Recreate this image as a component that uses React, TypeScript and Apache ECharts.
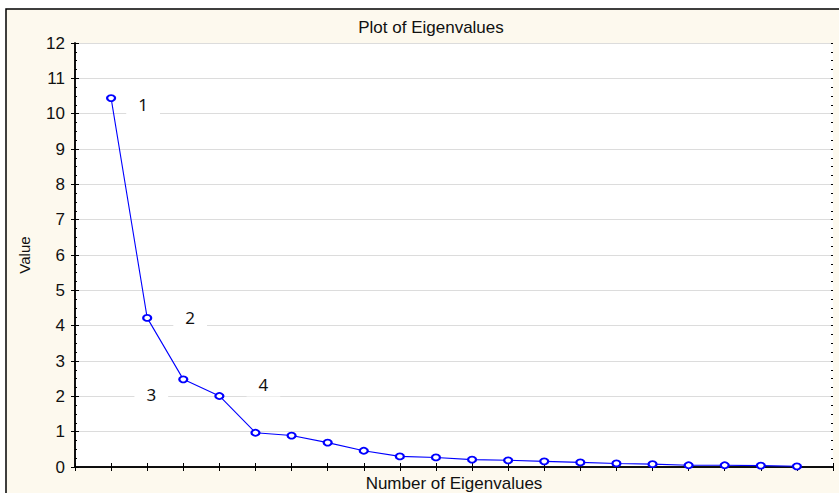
import React, { useEffect, useRef } from "react";
import * as echarts from "echarts";

const componentNumbers = [1, 2, 3, 4, 5, 6, 7, 8, 9, 10, 11, 12, 13, 14, 15, 16, 17, 18, 19, 20];
const eigenvalues = [10.44, 4.22, 2.48, 2.01, 0.97, 0.89, 0.69, 0.46, 0.3, 0.27, 0.21, 0.19, 0.16, 0.13, 0.1, 0.08, 0.05, 0.05, 0.04, 0.02];
const annotationTexts = ["1", "2", "3", "4"];
const annotationOffsets: [number, number][] = [[32, 6], [43, 0], [-32, 15], [44, -11]];
const yTicks = [0, 12];

export default function App() {
  const ref = useRef<HTMLDivElement>(null);
  useEffect(() => {
    if (!ref.current) return;
    const chart = echarts.init(ref.current, undefined, { renderer: "svg" });
    const data = componentNumbers.map((n, i) => {
      const item: any = { value: [n, eigenvalues[i]] };
      if (i < annotationTexts.length) {
        item.label = {
          show: true,
          formatter: annotationTexts[i],
          position: "inside",
          offset: annotationOffsets[i],
          align: "center",
          verticalAlign: "middle",
          fontFamily: "Noto Sans",
          fontSize: 17,
          color: "#111",
          backgroundColor: "#ffffff",
          padding: [3, 12],
        };
      }
      return item;
    });
    const axisFont = { fontFamily: "Liberation Sans, Arial, sans-serif", color: "#111" };
    const minorAxis = (position: string) => ({
      type: "value",
      min: yTicks[0],
      max: yTicks[1],
      interval: 0.25,
      position,
      axisLine: { show: false },
      axisTick: { show: true, inside: true, length: 2, lineStyle: { color: "#000" } },
      axisLabel: { show: false },
      splitLine: { show: false },
    });
    chart.setOption({
      animation: false,
      backgroundColor: "#ffffff",
      title: {
        text: "Plot of Eigenvalues",
        left: 426,
        textAlign: "center",
        top: 14,
        textStyle: { ...axisFont, fontSize: 17, fontWeight: "normal" },
      },
      graphic: [
        {
          type: "rect",
          z: -100,
          silent: true,
          shape: { x: 6, y: 9, width: 850, height: 500 },
          style: { fill: "#fdf9ee", stroke: "#000", lineWidth: 1.5 },
        },
      ],
      grid: {
        left: 75,
        right: 6,
        top: 43,
        bottom: 26,
        outerBoundsMode: "none",
        containLabel: false,
        show: true,
        backgroundColor: "#ffffff",
        borderWidth: 0,
      },
      xAxis: [
        {
          type: "value",
          min: 0,
          max: 21,
          interval: 1,
          position: "bottom",
          axisLine: { lineStyle: { color: "#000", width: 1.5 } },
          axisTick: { inside: true, length: 4, lineStyle: { color: "#000" } },
          axisLabel: { show: false },
          splitLine: { show: false },
          name: "Number of Eigenvalues",
          nameLocation: "middle",
          nameGap: 8,
          nameTextStyle: { ...axisFont, fontSize: 17 },
        },
        {
          type: "value",
          min: 0,
          max: 21,
          interval: 1,
          position: "top",
          axisLine: { lineStyle: { color: "#000", width: 1.5 } },
          axisTick: { inside: true, length: 4, lineStyle: { color: "#000" } },
          axisLabel: { show: false },
          splitLine: { show: false },
        },
      ],
      yAxis: [
        {
          type: "value",
          min: yTicks[0],
          max: yTicks[1],
          interval: 1,
          position: "left",
          axisLine: { show: true, lineStyle: { color: "#000", width: 1.5 } },
          axisTick: { show: true, inside: true, length: 4, lineStyle: { color: "#000" } },
          axisLabel: { ...axisFont, fontSize: 17, margin: 10 },
          splitLine: { show: true, lineStyle: { color: "#dcdcdc", width: 1 } },
          name: "Value",
          nameLocation: "middle",
          nameGap: 43,
          nameTextStyle: { ...axisFont, fontSize: 15 },
        },
        {
          type: "value",
          min: yTicks[0],
          max: yTicks[1],
          interval: 1,
          position: "right",
          axisLine: { show: true, lineStyle: { color: "#000", width: 1.5 } },
          axisTick: { show: true, inside: true, length: 4, lineStyle: { color: "#000" } },
          axisLabel: { show: false },
          splitLine: { show: false },
        },
        minorAxis("left"),
        minorAxis("right"),
      ],
      series: [
        {
          type: "line",
          data,
          xAxisIndex: 0,
          yAxisIndex: 0,
          symbol: "emptyCircle",
          symbolSize: [8, 6],
          lineStyle: { color: "#0000ff", width: 1.1 },
          itemStyle: { color: "#0000ff", borderColor: "#0000ff", borderWidth: 1 },
          z: 3,
        },
      ],
    });
    return () => chart.dispose();
  }, []);
  return (
    <div
      ref={ref}
      style={{ position: "fixed", left: 0, top: 0, width: 839, height: 493 }}
    />
  );
}
